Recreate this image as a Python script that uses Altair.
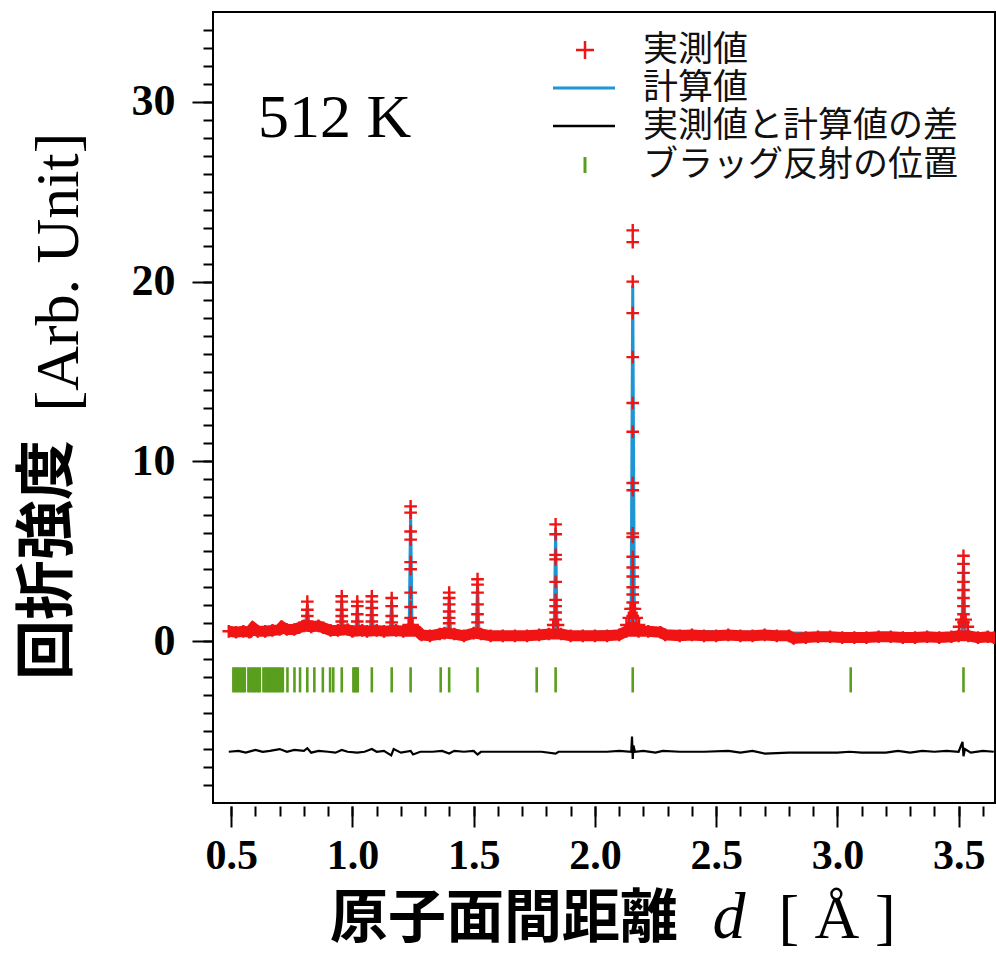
import altair as alt
import pandas as pd

# ---------------- data ----------------
# observed background band (d in Angstrom, intensity)
bg_d = [0.49, 0.52, 0.55, 0.575, 0.59, 0.61, 0.64, 0.67, 0.70, 0.71, 0.73, 0.76,
        0.78, 0.80, 0.83, 0.86, 0.88, 0.91, 0.94, 0.98, 1.00, 1.04, 1.06, 1.10,
        1.13, 1.18, 1.21, 1.27, 1.285, 1.32, 1.36, 1.38, 1.42, 1.46, 1.50, 1.53,
        1.57, 1.62, 1.67, 1.72, 1.77, 1.81, 1.86, 1.90, 1.95, 2.00, 2.05, 2.10,
        2.13, 2.18, 2.22, 2.27, 2.29, 2.35, 2.40, 2.45, 2.50, 2.55, 2.60, 2.65,
        2.70, 2.75, 2.80, 2.82, 2.87, 2.92, 2.97, 3.02, 3.07, 3.12, 3.17, 3.22,
        3.27, 3.32, 3.37, 3.42, 3.47, 3.50, 3.54, 3.58, 3.62, 3.645]
bg_i = [0.55, 0.50, 0.55, 0.50, 0.75, 0.55, 0.55, 0.60, 0.65, 0.80, 0.65, 0.65,
        0.75, 0.85, 0.80, 0.85, 0.75, 0.60, 0.60, 0.65, 0.55, 0.60, 0.55, 0.60,
        0.55, 0.60, 0.55, 0.55, 0.35, 0.30, 0.40, 0.45, 0.40, 0.30, 0.45, 0.40,
        0.30, 0.30, 0.30, 0.30, 0.35, 0.40, 0.40, 0.30, 0.30, 0.30, 0.30, 0.35,
        0.55, 0.55, 0.55, 0.50, 0.35, 0.30, 0.35, 0.30, 0.30, 0.35, 0.30, 0.30,
        0.35, 0.30, 0.30, 0.15, 0.20, 0.25, 0.25, 0.20, 0.20, 0.20, 0.25, 0.25,
        0.20, 0.20, 0.25, 0.20, 0.25, 0.30, 0.30, 0.20, 0.25, 0.20]

# observed points on the Bragg peaks
peak_d = [0.814, 0.814, 0.814, 0.814,
          0.956, 0.956, 0.956, 0.956, 0.956,
          1.020, 1.020, 1.020, 1.020,
          1.080, 1.080, 1.080, 1.080, 1.080,
          1.162, 1.162, 1.162, 1.162,
          1.240, 1.240, 1.240, 1.240, 1.240, 1.240, 1.240, 1.240, 1.240, 1.240,
          1.232, 1.248,
          1.399, 1.399, 1.399, 1.399, 1.399, 1.399,
          1.516, 1.516, 1.516, 1.516, 1.516, 1.516,
          1.838, 1.838, 1.838, 1.838, 1.838, 1.838, 1.838, 1.838, 1.838,
          1.828, 1.848,
          2.156, 2.156, 2.156, 2.156, 2.156, 2.156, 2.156, 2.156, 2.156, 2.156,
          2.156, 2.156, 2.156, 2.156, 2.156, 2.156, 2.156, 2.156, 2.156, 2.156,
          2.130, 2.140, 2.147, 2.165, 2.172, 2.182,
          3.520, 3.520, 3.520, 3.520, 3.520, 3.520, 3.520, 3.520, 3.520,
          3.502, 3.511, 3.529, 3.538]
peak_i = [2.20, 1.75, 1.40, 1.10,
          2.50, 2.20, 1.75, 1.40, 1.10,
          2.20, 1.95, 1.50, 1.10,
          2.50, 2.20, 1.85, 1.45, 1.10,
          2.40, 1.95, 1.40, 1.05,
          7.50, 7.15, 6.10, 5.65, 4.40, 4.00, 2.70, 1.90, 1.30, 0.85,
          0.90, 0.90,
          2.70, 2.40, 2.05, 1.65, 1.30, 1.00,
          3.45, 3.15, 2.70, 2.05, 1.50, 1.05,
          6.50, 5.95, 4.80, 4.55, 3.30, 2.30, 1.95, 1.60, 1.20,
          0.90, 0.90,
          22.85, 22.20, 20.00, 18.25, 15.80, 13.25, 11.65, 8.80, 8.40, 6.00,
          5.80, 4.70, 4.10, 3.60, 3.00, 2.60, 2.15, 1.80, 1.40, 1.00,
          0.90, 1.30, 1.80, 1.80, 1.30, 0.90,
          4.75, 4.30, 3.80, 3.30, 2.85, 2.40, 1.95, 1.50, 1.05,
          0.80, 1.20, 1.20, 0.80]

# calculated profile
calc_d = [0.49, 0.807, 0.814, 0.821, 0.950, 0.956, 0.962, 1.014, 1.020, 1.026,
          1.074, 1.080, 1.086, 1.156, 1.162, 1.168, 1.234, 1.240, 1.246,
          1.393, 1.399, 1.405, 1.510, 1.516, 1.522, 1.832, 1.838, 1.844,
          2.149, 2.156, 2.163, 3.513, 3.520, 3.527, 3.645]
calc_i = [0.55, 0.90, 2.00, 0.90, 0.60, 2.30, 0.60, 0.60, 2.00, 0.60,
          0.60, 2.30, 0.60, 0.60, 2.20, 0.60, 0.60, 7.20, 0.40,
          0.40, 2.50, 0.40, 0.40, 3.20, 0.40, 0.40, 6.20, 0.40,
          0.60, 19.80, 0.60, 0.30, 4.50, 0.30, 0.20]

# difference (observed - calculated), plotted with offset
diff_d = [0.49, 0.53, 0.56, 0.60, 0.63, 0.66, 0.70, 0.73, 0.76, 0.80, 0.814, 0.83,
          0.86, 0.90, 0.93, 0.956, 0.98, 1.02, 1.05, 1.08, 1.10, 1.13, 1.16, 1.17,
          1.20, 1.24, 1.25, 1.28, 1.33, 1.37, 1.399, 1.42, 1.46, 1.50, 1.516, 1.53,
          1.60, 1.70, 1.78, 1.838, 1.85, 1.95, 2.05, 2.10, 2.150, 2.153, 2.156, 2.159,
          2.165, 2.20, 2.25, 2.28, 2.35, 2.45, 2.55, 2.60, 2.65, 2.70, 2.80, 2.90,
          3.00, 3.05, 3.10, 3.20, 3.25, 3.30, 3.35, 3.40, 3.45, 3.50, 3.516, 3.520,
          3.526, 3.55, 3.60, 3.645]
diff_i = [-6.15, -6.10, -6.20, -6.05, -6.15, -6.10, -6.00, -6.15, -6.05, -6.10, -5.95, -6.20,
          -6.10, -6.15, -6.20, -6.05, -6.15, -6.20, -6.15, -6.00, -6.15, -6.10, -6.35, -6.00,
          -6.20, -6.10, -6.30, -6.15, -6.15, -6.10, -6.25, -6.10, -6.15, -6.10, -6.30, -6.15,
          -6.15, -6.15, -6.15, -6.25, -6.15, -6.15, -6.15, -6.10, -6.15, -5.30, -6.55, -5.80,
          -6.15, -6.10, -6.20, -6.10, -6.15, -6.15, -6.10, -6.20, -6.10, -6.25, -6.20, -6.20,
          -6.20, -6.15, -6.20, -6.20, -6.10, -6.20, -6.10, -6.15, -6.10, -6.15, -5.60, -6.40,
          -6.00, -6.20, -6.10, -6.15]

# Bragg reflection positions
bragg_d = [0.509, 0.517, 0.525, 0.533, 0.541, 0.549, 0.556,
           0.571, 0.579, 0.587, 0.595, 0.603, 0.611, 0.618,
           0.633, 0.641, 0.649, 0.657, 0.665, 0.673, 0.681, 0.689, 0.697, 0.705, 0.713,
           0.732, 0.761, 0.784, 0.814, 0.843, 0.878, 0.908, 0.921, 0.956,
           1.004, 1.010, 1.016, 1.022, 1.080, 1.162, 1.240, 1.364, 1.399, 1.516,
           1.760, 1.838, 2.156, 3.055, 3.520]

x_major = [0.5, 1.0, 1.5, 2.0, 2.5, 3.0, 3.5]
x_minor = [0.5, 0.6, 0.7, 0.8, 0.9, 1.0, 1.1, 1.2, 1.3, 1.4, 1.5, 1.6, 1.7, 1.8, 1.9,
           2.0, 2.1, 2.2, 2.3, 2.4, 2.5, 2.6, 2.7, 2.8, 2.9, 3.0, 3.1, 3.2, 3.3, 3.4,
           3.5, 3.6]
y_major = [0, 10, 20, 30]
y_minor = [-8, -7, -6, -5, -4, -3, -2, -1, 0, 1, 2, 3, 4, 5, 6, 7, 8, 9, 10, 11, 12,
           13, 14, 15, 16, 17, 18, 19, 20, 21, 22, 23, 24, 25, 26, 27, 28, 29, 30,
           31, 32, 33, 34]

legend_labels = ["実測値", "計算値", "実測値と計算値の差", "ブラッグ反射の位置"]
temp_label = "512 K"
x_title_cjk = "原子面間距離"
x_title_var = "d"
x_title_unit = "[ Å ]"
y_title_cjk = "回折強度"
y_title_unit = "[Arb. Unit]"

# ---------------- styles ----------------
RED = "#F01414"
BLUE = "#1E96D4"
GREEN = "#5A9E1E"
CROSS = "M-1,0L1,0M0,-1L0,1"
SERIF = "Liberation Serif"
CJK = "Noto Sans CJK JP"

xs = alt.Scale(domain=[0.425, 3.65], nice=False, zero=False)
ys = alt.Scale(domain=[-9, 35], nice=False, zero=False)

major_x_axis = alt.Axis(values=x_major, orient="bottom", format=".1f", tickSize=21,
                        tickWidth=2, tickColor="black", domain=False, grid=False,
                        labelFont=SERIF, labelFontWeight="bold", labelFontSize=42,
                        labelColor="black", labelPadding=8, offset=3, title=None,
                        labelFlush=False, labelOverlap=False)
minor_x_axis = alt.Axis(values=x_minor, orient="bottom", tickSize=10, tickWidth=2,
                        tickColor="black", labels=False, domain=False, grid=False,
                        offset=3, title=None)
major_y_axis = alt.Axis(values=y_major, orient="left", format="d", tickSize=21,
                        tickWidth=2, tickColor="black", domain=False, grid=False,
                        labelFont=SERIF, labelFontWeight="bold", labelFontSize=44,
                        labelColor="black", labelPadding=17, title=None,
                        labelFlush=False, labelOverlap=False)
minor_y_axis = alt.Axis(values=y_minor, orient="left", tickSize=10, tickWidth=2,
                        tickColor="black", labels=False, domain=False, grid=False,
                        title=None)

df_bg = pd.DataFrame({"d": bg_d, "i": bg_i})
df_obs = pd.DataFrame({"d": bg_d + peak_d, "i": bg_i + peak_i})
df_calc = pd.DataFrame({"d": calc_d, "i": calc_i})
df_diff = pd.DataFrame({"d": diff_d, "i": diff_i})
df_bragg = pd.DataFrame({"d": bragg_d})

bragg = alt.Chart(df_bragg).mark_rule(color=GREEN, strokeWidth=2.6, clip=True).encode(
    x=alt.X("d:Q", scale=xs, axis=major_x_axis),
    y=alt.Y(datum=-1.45, type="quantitative", scale=ys, axis=major_y_axis),
    y2=alt.datum(-2.85),
)

diff = alt.Chart(df_diff).mark_line(color="black", strokeWidth=2.2, clip=True).encode(
    x=alt.X("d:Q", scale=xs, axis=minor_x_axis),
    y=alt.Y("i:Q", scale=ys, axis=minor_y_axis),
)

calc = alt.Chart(df_calc).mark_line(color=BLUE, strokeWidth=3, clip=True).encode(
    x=alt.X("d:Q", scale=xs, axis=None),
    y=alt.Y("i:Q", scale=ys, axis=None),
)

band = alt.Chart(df_bg).mark_line(color=RED, strokeWidth=11, clip=True).encode(
    x=alt.X("d:Q", scale=xs, axis=None),
    y=alt.Y("i:Q", scale=ys, axis=None),
)

obs = alt.Chart(df_obs).mark_point(shape=CROSS, size=160, strokeWidth=2.4, color=RED,
                                   filled=False, opacity=1, clip=True).encode(
    x=alt.X("d:Q", scale=xs, axis=None),
    y=alt.Y("i:Q", scale=ys, axis=None),
)


def label(s, x, y, **kw):
    return alt.Chart(pd.DataFrame({"t": [s]})).mark_text(**kw).encode(
        x=alt.value(x), y=alt.value(y), text="t:N")


def seg(x, x2, y, color, w):
    return alt.Chart(pd.DataFrame({"k": [0]})).mark_rule(color=color, strokeWidth=w).encode(
        x=alt.value(x), x2=alt.value(x2), y=alt.value(y))


texts = [
    label(temp_label, 45, 125, font=SERIF, fontSize=62, align="left",
          baseline="alphabetic", color="black"),
    label(x_title_cjk, 291, 908, font=CJK, fontSize=58, fontWeight="bold",
          align="center", baseline="middle", color="black"),
    label(x_title_var, 516, 926, font=SERIF, fontSize=66, fontStyle="italic",
          align="center", baseline="alphabetic", color="black"),
    label(x_title_unit, 624, 926, font=SERIF, fontSize=62,
          align="center", baseline="alphabetic", color="black"),
    label(y_title_cjk, -164, 548, font=CJK, fontSize=60, fontWeight="bold", angle=270,
          align="center", baseline="middle", color="black"),
    label(y_title_unit, -135, 260, font=SERIF, fontSize=62, angle=270,
          align="center", baseline="alphabetic", color="black"),
]

leg_y = [38, 76, 114, 153]
legend = [label(t, 430, yy, font=CJK, fontSize=35, align="left", baseline="middle",
                color="#111111") for t, yy in zip(legend_labels, leg_y)]
legend += [
    alt.Chart(pd.DataFrame({"k": [0]})).mark_point(
        shape=CROSS, size=324, strokeWidth=2.5, color=RED, filled=False, opacity=1
    ).encode(x=alt.value(372), y=alt.value(leg_y[0])),
    seg(340, 402, leg_y[1], BLUE, 3),
    seg(340, 402, leg_y[2], "black", 2.5),
    alt.Chart(pd.DataFrame({"k": [0]})).mark_rule(color=GREEN, strokeWidth=3).encode(
        x=alt.value(372), y=alt.value(leg_y[3] - 8), y2=alt.value(leg_y[3] + 8)),
]

chart = alt.layer(bragg, diff, calc, band, obs, *texts, *legend).resolve_axis(
    x="independent", y="independent"
).properties(
    width=782, height=791,
    autosize=alt.AutoSizeParams(type="none"),
    padding={"left": 213, "top": 12, "right": 1, "bottom": 150},
    background="white",
).configure_view(stroke="black", strokeWidth=2)

chart.save("out.html", embed_options={"renderer": "svg", "actions": False})
